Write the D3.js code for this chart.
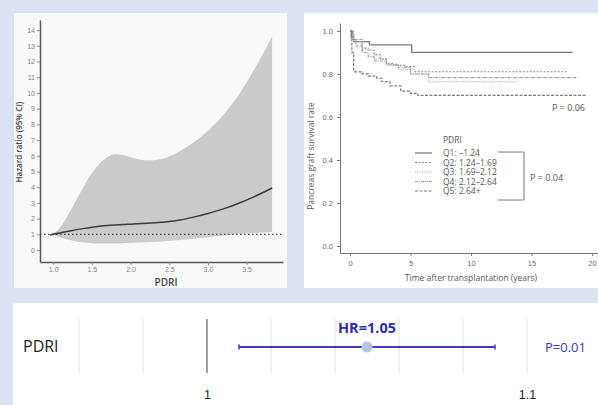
<!DOCTYPE html>
<html>
<head>
<meta charset="utf-8">
<script src="https://cdn.jsdelivr.net/npm/d3@7"></script>
<style>
  body { margin: 0; background: #dbe2f1; }
  svg { display: block; font-family: "Open Sans", "Noto Sans", sans-serif; }
</style>
</head>
<body>
<div id="chart"></div>
<script>
// spline panel: PDRI vs hazard ratio with 95% CI band
var splineX    = [0.96, 1.0, 1.1, 1.2, 1.3, 1.4, 1.5, 1.6, 1.7, 1.8, 1.9, 2.0, 2.2, 2.4, 2.6, 2.8, 3.0, 3.2, 3.4, 3.6, 3.83];
var splineHR   = [0.95, 1.0, 1.1, 1.2, 1.3, 1.38, 1.45, 1.52, 1.57, 1.6, 1.62, 1.65, 1.7, 1.77, 1.88, 2.08, 2.33, 2.62, 2.98, 3.4, 3.95];
var splineLow  = [0.95, 0.95, 0.8, 0.65, 0.55, 0.48, 0.44, 0.42, 0.42, 0.42, 0.44, 0.46, 0.5, 0.55, 0.62, 0.72, 0.82, 0.92, 1.0, 1.08, 1.15];
var splineHigh = [0.95, 1.05, 1.5, 2.3, 3.2, 4.1, 4.9, 5.5, 5.9, 6.1, 6.05, 5.9, 5.7, 5.8, 6.2, 6.8, 7.6, 8.6, 9.9, 11.5, 13.6];
var splineYTicks = [0, 1, 2, 3, 4, 5, 6, 7, 8, 9, 10, 11, 12, 13, 14];
var splineXTicks = [1.0, 1.5, 2.0, 2.5, 3.0, 3.5];

// Kaplan-Meier panel (time in years, survival)
var q1Time = [0, 0.1, 0.3, 1.6, 5.1, 18.4];
var q1Surv = [1.0, 0.97, 0.95, 0.935, 0.9, 0.9];
var q2Time = [0, 0.2, 0.5, 1.0, 1.5, 2.0, 2.5, 3.0, 3.5, 4.5, 5.3, 18.0];
var q2Surv = [1.0, 0.96, 0.93, 0.92, 0.91, 0.89, 0.87, 0.85, 0.84, 0.835, 0.81, 0.81];
var q3Time = [0, 0.3, 1.0, 2.0, 3.0, 4.0, 5.0, 6.5, 13.9];
var q3Surv = [1.0, 0.95, 0.91, 0.87, 0.84, 0.82, 0.8, 0.764, 0.764];
var q4Time = [0, 0.3, 1.0, 1.5, 2.0, 3.0, 4.0, 5.0, 6.5, 18.8];
var q4Surv = [1.0, 0.96, 0.9, 0.88, 0.86, 0.845, 0.83, 0.8, 0.783, 0.783];
var q5Time = [0, 0.15, 0.3, 1.0, 1.5, 2.2, 2.6, 3.3, 4.2, 5.0, 5.6, 19.6];
var q5Surv = [1.0, 0.9, 0.81, 0.8, 0.79, 0.78, 0.765, 0.745, 0.72, 0.71, 0.7, 0.7];
var kmLabels = ["Q1: \u20131.24", "Q2: 1.24\u20131.69", "Q3: 1.69\u20132.12", "Q4: 2.12\u20132.64", "Q5: 2.64+"];
var kmXTicks = [0, 5, 10, 15, 20];
var kmYTicks = [0, 0.2, 0.4, 0.6, 0.8, 1.0];

// forest panel
var forestGrid = [0.96, 0.98, 1.0, 1.02, 1.04, 1.06, 1.08, 1.1];
var forestLabels = [1, 1.1];
var forestHR = 1.05, forestLow = 1.01, forestHigh = 1.09;

var svg = d3.select("#chart").append("svg")
    .attr("width", 598)
    .attr("height", 405);

// panel backgrounds
svg.append("rect").attr("x", 0).attr("y", 0).attr("width", 598).attr("height", 405).attr("fill", "#dbe2f1");
svg.append("rect").attr("x", 14).attr("y", 13).attr("width", 273).attr("height", 275).attr("fill", "#f9f9f9");
svg.append("rect").attr("x", 304).attr("y", 13).attr("width", 294).attr("height", 275).attr("fill", "#ffffff");
svg.append("rect").attr("x", 13).attr("y", 303).attr("width", 585).attr("height", 102).attr("fill", "#ffffff");

// ---------- spline panel ----------
var sx = d3.scaleLinear().domain([0.83, 3.97]).range([40, 283]);
var sy = d3.scaleLinear().domain([-0.76, 14.64]).range([262, 20]);

var splineData = splineX.map((x, i) => ({x: x, hr: splineHR[i], lo: splineLow[i], hi: splineHigh[i]}));

svg.append("path")
    .datum(splineData)
    .attr("fill", "#cbcbcb")
    .attr("d", d3.area().curve(d3.curveMonotoneX)
        .x(d => sx(d.x)).y0(d => sy(d.lo)).y1(d => sy(d.hi)));

svg.append("line")
    .attr("x1", sx(0.83)).attr("x2", sx(3.97))
    .attr("y1", sy(1)).attr("y2", sy(1))
    .attr("stroke", "#444").attr("stroke-width", 1.2)
    .attr("stroke-dasharray", "1.5,2.5");

svg.append("path")
    .datum(splineData)
    .attr("fill", "none")
    .attr("stroke", "#3a3a3a")
    .attr("stroke-width", 1.5)
    .attr("d", d3.line().curve(d3.curveMonotoneX).x(d => sx(d.x)).y(d => sy(d.hr)));

var sAxisY = svg.append("g")
    .attr("transform", "translate(40,0)")
    .call(d3.axisLeft(sy).tickValues(splineYTicks).tickFormat(d3.format("d")).tickSize(3).tickSizeOuter(0).tickPadding(2));
var sAxisX = svg.append("g")
    .attr("transform", "translate(0,262)")
    .call(d3.axisBottom(sx).tickValues(splineXTicks).tickFormat(d3.format(".1f")).tickSize(3).tickSizeOuter(0).tickPadding(2));
[sAxisY, sAxisX].forEach(function(g) {
    g.select(".domain").attr("stroke", "#555").attr("stroke-width", 1.5);
    g.selectAll(".tick line").attr("stroke", "#888");
    g.selectAll(".tick text").attr("fill", "#7c8090").style("font-size", "7px");
});

svg.append("text")
    .attr("transform", "translate(22,142) rotate(-90)")
    .attr("text-anchor", "middle")
    .attr("fill", "#444")
    .style("font-size", "8px")
    .style("font-weight", "600")
    .text("Hazard ratio (95% CI)");

svg.append("text")
    .attr("x", 166).attr("y", 286)
    .attr("text-anchor", "middle")
    .attr("fill", "#444")
    .style("font-size", "10px")
    .style("font-weight", "600")
    .text("PDRI");

// ---------- Kaplan-Meier panel ----------
var kx = d3.scaleLinear().domain([-0.83, 20.5]).range([340, 598]);
var ky = d3.scaleLinear().domain([-0.0326, 1.037]).range([253, 23]);

var kmSeries = [
    {t: q1Time, s: q1Surv, color: "#7a7a7a", dash: null, w: 1.3},
    {t: q2Time, s: q2Surv, color: "#8a8a8a", dash: "2,1.5", w: 1.1},
    {t: q3Time, s: q3Surv, color: "#b0b0b0", dash: "1,0.8", w: 1.1},
    {t: q4Time, s: q4Surv, color: "#9a9a9a", dash: "3,1,1,1", w: 1.1},
    {t: q5Time, s: q5Surv, color: "#7a7a7a", dash: "3,1.5", w: 1.2}
];

var kmLine = d3.line().curve(d3.curveStepAfter).x(d => kx(d[0])).y(d => ky(d[1]));

kmSeries.forEach(function(k) {
    svg.append("path")
        .datum(k.t.map((t, i) => [t, k.s[i]]))
        .attr("fill", "none")
        .attr("stroke", k.color)
        .attr("stroke-width", k.w)
        .attr("stroke-dasharray", k.dash)
        .attr("d", kmLine);
});

var kAxisY = svg.append("g")
    .attr("transform", "translate(340,0)")
    .call(d3.axisLeft(ky).tickValues(kmYTicks).tickFormat(d3.format(".1f")).tickSize(3).tickSizeOuter(0).tickPadding(4));
var kAxisX = svg.append("g")
    .attr("transform", "translate(0,253)")
    .call(d3.axisBottom(kx).tickValues(kmXTicks).tickFormat(d3.format("d")).tickSize(3).tickSizeOuter(0).tickPadding(5));
[kAxisY, kAxisX].forEach(function(g) {
    g.select(".domain").attr("stroke", "#777").attr("stroke-width", 1);
    g.selectAll(".tick line").attr("stroke", "#777");
    g.selectAll(".tick text").attr("fill", "#666").style("font-size", "7.5px");
});

svg.append("text")
    .attr("transform", "translate(314,156) rotate(-90)")
    .attr("text-anchor", "middle")
    .attr("fill", "#555")
    .style("font-size", "8.5px")
    .text("Pancreas graft survival rate");

svg.append("text")
    .attr("x", kx(10)).attr("y", 281)
    .attr("text-anchor", "middle")
    .attr("fill", "#555")
    .style("font-size", "8.5px")
    .text("Time after transplantation (years)");

svg.append("text")
    .attr("x", 585).attr("y", 111)
    .attr("text-anchor", "end")
    .attr("fill", "#555")
    .style("font-size", "9px")
    .text("P = 0.06");

// legend
var legTop = 153, legStep = 9.5;
svg.append("text")
    .attr("x", 443).attr("y", 143)
    .attr("fill", "#555")
    .style("font-size", "8.5px")
    .text("PDRI");

kmSeries.forEach(function(k, i) {
    var y = legTop + i * legStep;
    svg.append("line")
        .attr("x1", 415).attr("x2", 432)
        .attr("y1", y).attr("y2", y)
        .attr("stroke", k.color)
        .attr("stroke-width", k.w)
        .attr("stroke-dasharray", k.dash);
    svg.append("text")
        .attr("x", 443).attr("y", y + 3)
        .attr("fill", "#555")
        .style("font-size", "8.5px")
        .text(kmLabels[i]);
});

svg.append("path")
    .attr("d", "M498,152 H524 V200 H498")
    .attr("fill", "none")
    .attr("stroke", "#777")
    .attr("stroke-width", 1);

svg.append("text")
    .attr("x", 530).attr("y", 181)
    .attr("fill", "#555")
    .style("font-size", "9px")
    .text("P = 0.04");

// ---------- forest panel ----------
var fx = d3.scaleLinear().domain([1, 1.1]).range([207, 527]);
var fy = 347;

svg.selectAll(".grid")
    .data(forestGrid)
    .enter()
    .append("line")
    .attr("x1", d => fx(d)).attr("x2", d => fx(d))
    .attr("y1", 319).attr("y2", 373)
    .attr("stroke", d => d === 1 ? "#888" : "#e3e3e3")
    .attr("stroke-width", d => d === 1 ? 1.6 : 1);

var fAxis = svg.append("g")
    .attr("transform", "translate(0,384)")
    .call(d3.axisBottom(fx).tickValues(forestLabels).tickFormat(d3.format("")).tickSize(0).tickPadding(6));
fAxis.select(".domain").remove();
fAxis.selectAll(".tick text").attr("fill", "#222").style("font-size", "12.5px");

svg.append("line")
    .attr("x1", fx(forestLow)).attr("x2", fx(forestHigh))
    .attr("y1", fy).attr("y2", fy)
    .attr("stroke", "#3a3ac4")
    .attr("stroke-width", 2);
[forestLow, forestHigh].forEach(function(v) {
    svg.append("line")
        .attr("x1", fx(v)).attr("x2", fx(v))
        .attr("y1", fy - 2.5).attr("y2", fy + 2.5)
        .attr("stroke", "#3a3ac4")
        .attr("stroke-width", 1.5);
});
svg.append("circle")
    .attr("cx", fx(forestHR)).attr("cy", fy)
    .attr("r", 5.5)
    .attr("fill", "#b4c6e7");

svg.append("text")
    .attr("x", fx(forestHR)).attr("y", 333)
    .attr("text-anchor", "middle")
    .attr("fill", "#2b2bb5")
    .style("font-size", "14.5px")
    .style("font-weight", "bold")
    .text("HR=" + forestHR.toFixed(2));

svg.append("text")
    .attr("x", 545).attr("y", 352)
    .attr("fill", "#3535c4")
    .style("font-size", "13px")
    .text("P=0.01");

svg.append("text")
    .attr("x", 23).attr("y", 352)
    .attr("fill", "#222")
    .style("font-size", "16px")
    .text("PDRI");
</script>
</body>
</html>
